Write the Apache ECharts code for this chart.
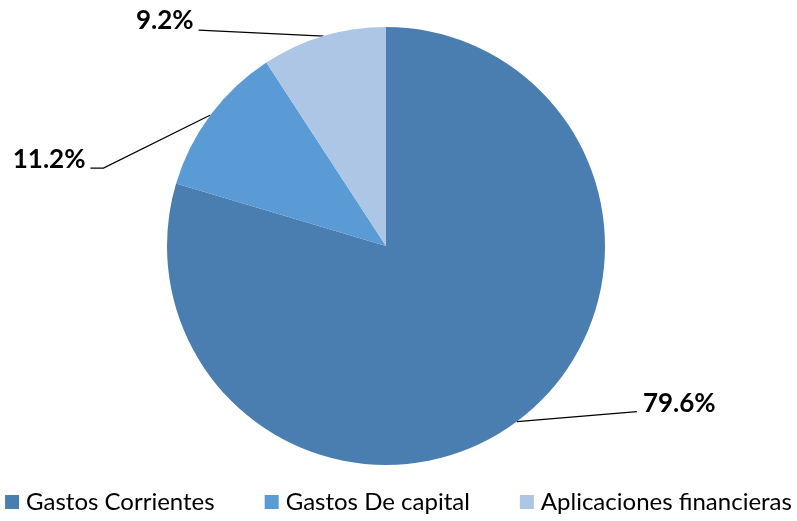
<!DOCTYPE html>
<html><head><meta charset="utf-8">
<script src="https://cdn.jsdelivr.net/npm/echarts@6/dist/echarts.min.js"></script>
<style>html,body{margin:0;padding:0;background:#fff}#c{width:797px;height:521px}</style>
</head><body><div id="c"></div>
<script>
const categories = ['Gastos Corrientes', 'Gastos De capital', 'Aplicaciones financieras'];
const values = [79.6, 11.2, 9.2];
const colors = ['#4A7EB1', '#5B9BD5', '#ADC6E6'];
// label placement relative to the slice's edge anchor: bend point, line end, label anchor, alignment
const labelOffsets = [
  [[120, -10], [120, -10], [126, -18], 'left'],
  [[-107, 53], [-120, 53], [-125, 45], 'right'],
  [[-125, -6], [-125, -6], [-130, -15], 'right']
];

const chart = echarts.init(document.getElementById('c'), null, {renderer: 'canvas'});
chart.setOption({
  animation: false,
  color: colors,
  legend: {
    bottom: 2,
    left: 'center',
    icon: 'rect',
    itemWidth: 14,
    itemHeight: 14,
    itemGap: 50,
    textStyle: {fontSize: 24, color: '#000', fontFamily: 'Lato, sans-serif', padding: [0, 0, 0, 2]},
    data: categories
  },
  series: [{
    type: 'pie',
    center: [386, 246],
    radius: 219,
    startAngle: 90,
    clockwise: true,
    data: categories.map((n, i) => ({name: n, value: values[i]})),
    itemStyle: {borderWidth: 0},
    label: {
      show: true,
      position: 'outside',
      formatter: p => p.value.toFixed(1) + '%',
      fontSize: 26,
      fontWeight: 'bold',
      color: '#000',
      fontFamily: 'Lato, sans-serif'
    },
    labelLine: {show: true, length: 20, length2: 20, lineStyle: {color: '#000', width: 1.2}},
    labelLayout: function (params) {
      const o = labelOffsets[params.dataIndex];
      const p0 = params.labelLinePoints[0];
      return {
        x: p0[0] + o[2][0],
        y: p0[1] + o[2][1],
        align: o[3],
        verticalAlign: 'middle',
        labelLinePoints: [
          [p0[0], p0[1]],
          [p0[0] + o[0][0], p0[1] + o[0][1]],
          [p0[0] + o[1][0], p0[1] + o[1][1]]
        ]
      };
    }
  }]
});
</script></body></html>
